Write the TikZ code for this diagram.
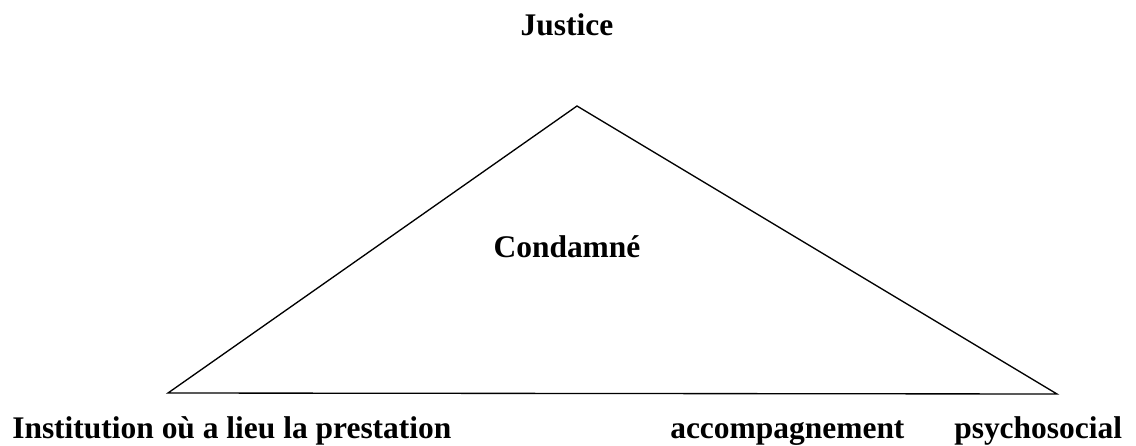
\documentclass[tikz,border=0pt]{standalone}
\usepackage{fontspec}
\setmainfont{Liberation Serif}
\usetikzlibrary{positioning}

\begin{document}
\begin{tikzpicture}[x=0.75pt,y=-0.75pt,
  every node/.style={font=\fontsize{23.6}{28}\selectfont\bfseries, inner sep=0pt}]
 	 % Fix the size of the picture
 	 \useasboundingbox (0,0) rectangle (1136,446);

 	 % Corners of the triangle
 	 \coordinate (top) at (577,106);
 	 \coordinate (left) at (168,393);
 	 \coordinate (right) at (1057,394);
 	 \draw[line width=1pt] (top) -- (left) -- (right) -- cycle;

 	 % Labels
 	 \node[anchor=base] (justice) at (567,36) {Justice};
 	 \node[anchor=base] (condamne) at (567,257) {Condamné};
 	 \node[anchor=base west] (institution) at (12,438) {Institution où a lieu la prestation};
 	 \node[anchor=base west] (accomp) at (670,438) {accompagnement};
 	 \node[anchor=base west] (psycho) at (954,438) {psychosocial};
\end{tikzpicture}
\end{document}
